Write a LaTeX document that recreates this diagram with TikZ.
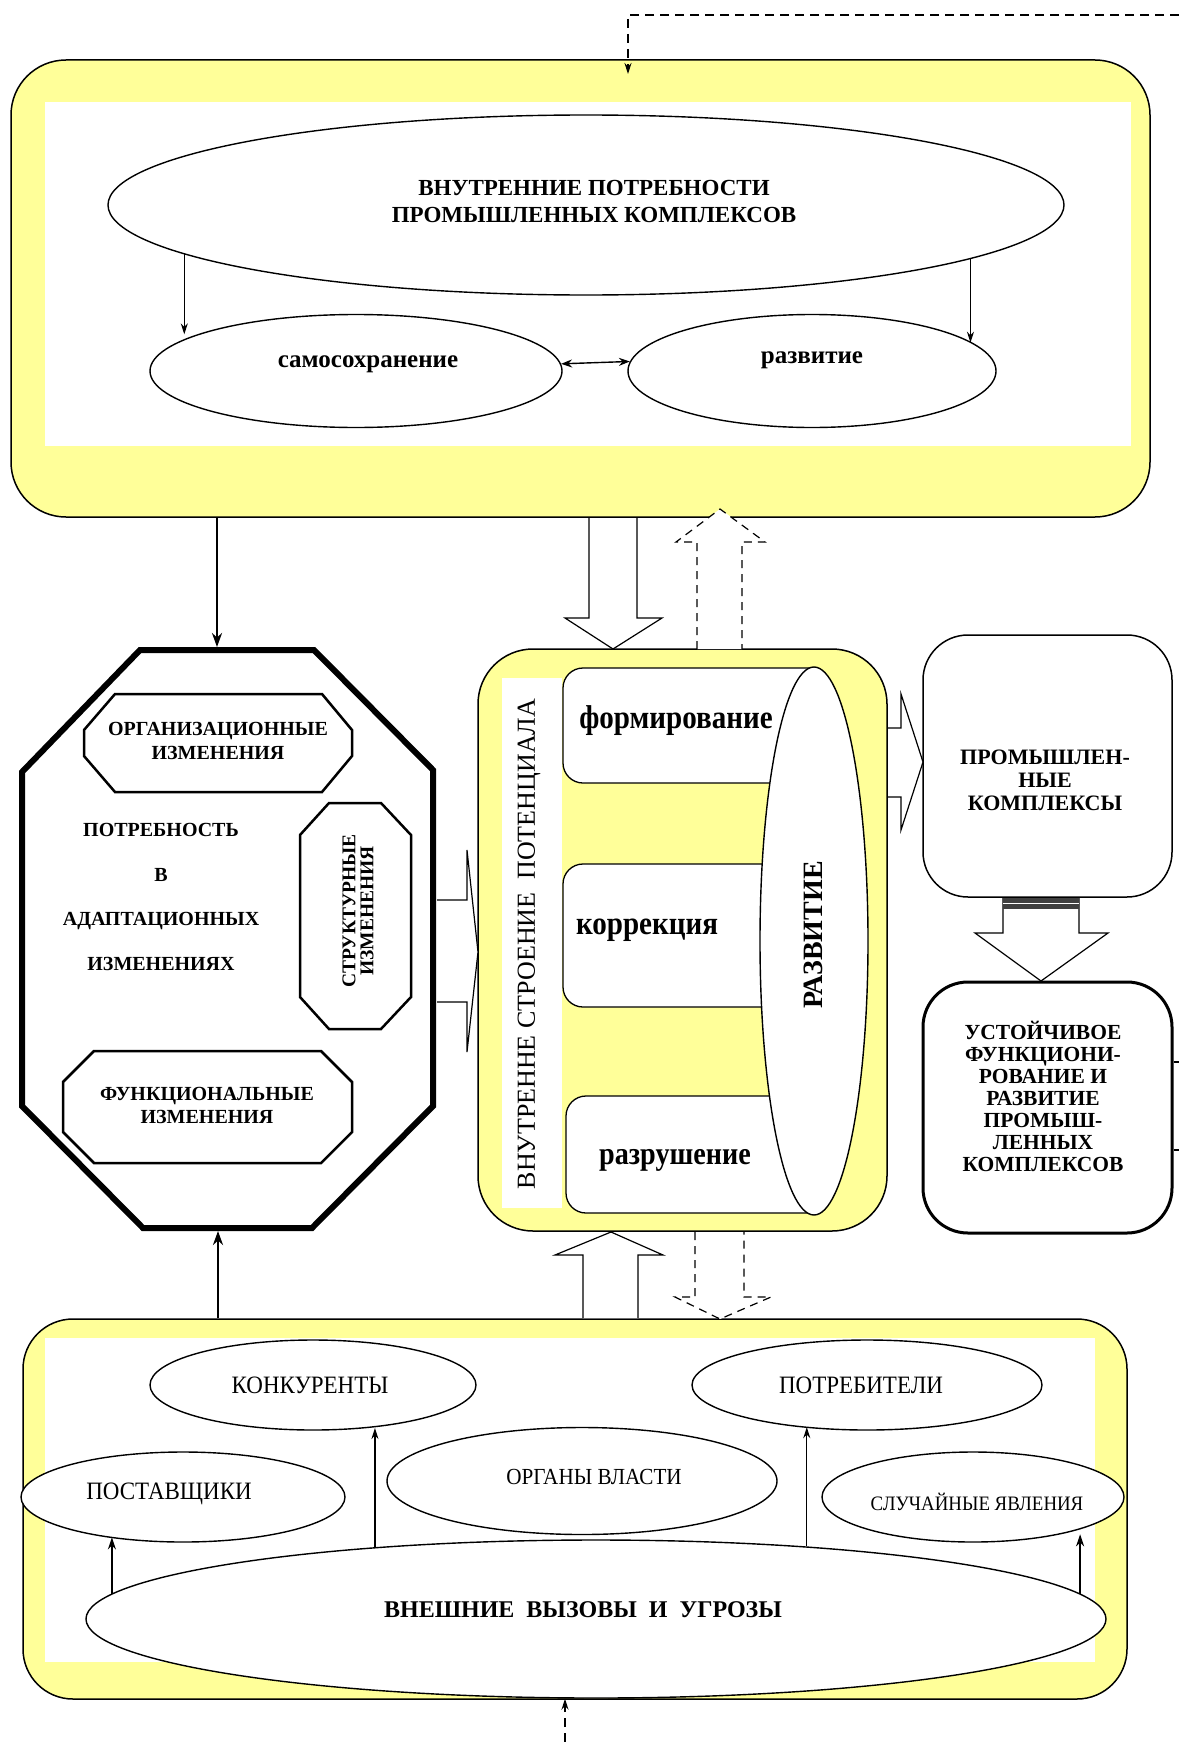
\documentclass[tikz,border=0pt]{standalone}
\usepackage{fontspec}
\setmainfont{Liberation Serif}
\newfontfamily\serifN[FakeStretch=0.88]{Liberation Serif}
\newfontfamily\serifC[FakeStretch=0.92]{Liberation Serif}
\usetikzlibrary{shapes.geometric, arrows.meta, calc}
\definecolor{yel}{RGB}{255,255,153}
\tikzset{
  ybox/.style={draw, line width=1.5pt, fill=yel, rounded corners=#1, inner sep=0pt},
  wbox/.style={fill=white, inner sep=0pt},
  ell/.style={draw, ellipse, line width=1.4pt, fill=white, inner sep=0pt},
  arr/.style={-{Stealth[length=11pt,width=7pt]}, line width=1.2pt},
  marr/.style={-{Stealth[length=12pt,width=8pt]}, line width=2pt},
  tarr/.style={-{Stealth[length=14pt,width=10pt]}, line width=2.5pt},
  darr/.style={arr, dash pattern=on 9pt off 6pt},
  blk/.style={draw, fill=white, line width=1.2pt, line join=miter},
  dblk/.style={blk, dash pattern=on 8pt off 6pt},
  chb/.style={draw, fill=white, line width=2.5pt, line join=miter},
  lbl/.style={align=center, inner sep=0pt},
}
\begin{document}
\begin{tikzpicture}[x=1pt,y=-1pt]
\useasboundingbox (0,0) rectangle (1179,1742);

% ---------- top block ----------
\node[ybox=55pt, minimum width=1139pt, minimum height=457pt] (topbox) at (580.5,288.5) {};
\node[wbox, minimum width=1086pt, minimum height=344pt] (topin) at (588,274) {};
\node[ell, minimum width=956pt, minimum height=180pt] (needs) at (586,205) {};
\node[lbl, font=\bfseries\fontsize{23}{27}\selectfont] (needst) at (594,201) {ВНУТРЕННИЕ ПОТРЕБНОСТИ\\ПРОМЫШЛЕННЫХ КОМПЛЕКСОВ};
\node[ell, minimum width=412pt, minimum height=113pt] (selfp) at (356,371) {};
\node[lbl, font=\bfseries\fontsize{25}{28}\selectfont] (selfpt) at (368,364) {самосохранение};
\node[ell, minimum width=368pt, minimum height=113pt] (devel) at (812,371) {};
\node[lbl, font=\bfseries\fontsize{25}{28}\selectfont] (develt) at (812,360) {развитие};

\draw[arr] (needs.187.55) -- (needs.187.55 |- selfp.167.77);
\draw[arr] (needs.352.05) -- (needs.352.05 |- devel.10.3);
\draw[{Stealth[length=11pt,width=8pt]}-{Stealth[length=11pt,width=8pt]}, line width=1.4pt] (selfp.2.53) -- (devel.177.2);

\coordinate (topright) at (1179,15);
\coordinate (topinarrow) at (628,74);
\draw[darr] (topright) -| (topinarrow);

% ---------- octagon ----------
\node[inner sep=0pt, minimum width=411pt, minimum height=578pt] (oct) at (227.5,939) {};
\draw[line width=6pt, line join=miter, fill=white] (140,650) -- (314,650) -- (433,770) -- (433,1106) -- (312,1228) -- (143,1228) -- (22,1106) -- (22,772) -- cycle;
\coordinate (octtop) at (217,647);
\coordinate (octbot) at (218,1231);

\draw[chb] (115,694) -- (322,694) -- (352,730) -- (352,756) -- (322,792) -- (115,792) -- (84,756) -- (84,730) -- cycle;
\node[lbl, font=\bfseries\fontsize{20}{24}\selectfont] (orgt) at (218,741) {ОРГАНИЗАЦИОННЫЕ\\ИЗМЕНЕНИЯ};

\draw[chb] (329,803) -- (381,803) -- (411,835) -- (411,997) -- (381,1029) -- (329,1029) -- (300,997) -- (300,835) -- cycle;
\node[lbl, rotate=90, font=\bfseries\fontsize{19.5}{18}\selectfont] (strt) at (358,911) {СТРУКТУРНЫЕ\\ИЗМЕНЕНИЯ};

\draw[chb] (94,1051) -- (321,1051) -- (352,1082) -- (352,1132) -- (321,1163) -- (94,1163) -- (63,1132) -- (63,1082) -- cycle;
\node[lbl, font=\bfseries\fontsize{20}{23}\selectfont] (funt) at (207,1105) {ФУНКЦИОНАЛЬНЫЕ\\ИЗМЕНЕНИЯ};

\node[lbl, font=\bfseries\fontsize{20}{44.7}\selectfont] (needad) at (161,897) {ПОТРЕБНОСТЬ\\В\\АДАПТАЦИОННЫХ\\ИЗМЕНЕНИЯХ};

% ---------- central block ----------
\node[ybox=55pt, minimum width=409pt, minimum height=582pt] (cbox) at (682.5,940) {};
\node[wbox, minimum width=60pt, minimum height=530pt] (cstrip) at (532,943) {};
\node[lbl, rotate=90, font=\fontsize{26}{26}\selectfont] (cstript) at (529,944) {ВНУТРЕННЕ СТРОЕНИЕ\ \ ПОТЕНЦИАЛА};

\filldraw[fill=white, line width=1.3pt, rounded corners=20pt] (814,668) -- (563,668) -- (563,783) -- (814,783);
\filldraw[fill=white, line width=1.3pt, rounded corners=20pt] (814,864) -- (563,864) -- (563,1007) -- (814,1007);
\filldraw[fill=white, line width=1.3pt, rounded corners=20pt] (814,1096) -- (566,1096) -- (566,1213) -- (814,1213);
\node[ell, minimum width=108pt, minimum height=548pt] (razv) at (814,941) {};
\node[lbl, rotate=90, font=\bfseries\fontsize{28}{28}\selectfont] (razvt) at (813,935) {РАЗВИТИЕ};

\node[lbl, anchor=base, font=\serifN\bfseries\fontsize{33}{33}\selectfont] (formt) at (676,728) {формирование};
\node[lbl, anchor=base, font=\serifN\bfseries\fontsize{33}{33}\selectfont] (korrt) at (647,934) {коррекция};
\node[lbl, anchor=base, font=\serifN\bfseries\fontsize{32}{32}\selectfont] (razrt) at (675,1164) {разрушение};

% ---------- right column ----------
\node[draw, line width=1.5pt, rounded corners=45pt, minimum width=249pt, minimum height=262pt, inner sep=0pt] (pk) at (1047.5,766) {};
\node[lbl, font=\bfseries\fontsize{22}{23}\selectfont] (pkt) at (1045,780) {ПРОМЫШЛЕН-\\НЫЕ\\КОМПЛЕКСЫ};
\node[draw, line width=3pt, rounded corners=45pt, minimum width=249pt, minimum height=251pt, inner sep=0pt] (uf) at (1047.5,1107.5) {};
\node[lbl, font=\bfseries\fontsize{21.5}{22}\selectfont] (uft) at (1043,1096) {УСТОЙЧИВОЕ\\ФУНКЦИОНИ-\\РОВАНИЕ И\\РАЗВИТИЕ\\ПРОМЫШ-\\ЛЕННЫХ\\КОМПЛЕКСОВ};
\coordinate (edgeA) at (1179,1062);
\coordinate (edgeB) at (1179,1150);
\draw[line width=1.2pt] (uf.east |- edgeA) -- (edgeA);
\draw[line width=1.2pt] (uf.east |- edgeB) -- (edgeB);

% ---------- bottom block ----------
\node[ybox=50pt, minimum width=1104pt, minimum height=380pt] (botbox) at (575,1509) {};
\node[wbox, minimum width=1050pt, minimum height=324pt] (botin) at (570,1500) {};
\node[ell, minimum width=1020pt, minimum height=158pt] (vnesh) at (596,1619) {};
\node[lbl, font=\bfseries\fontsize{24}{26}\selectfont] (vnesht) at (583,1610) {ВНЕШНИЕ\ \ ВЫЗОВЫ\ \ И\ \ УГРОЗЫ};
\node[ell, minimum width=326pt, minimum height=90pt] (kon) at (313,1385) {};
\node[lbl, font=\serifC\fontsize{25}{26}\selectfont] (kont) at (310,1385) {КОНКУРЕНТЫ};
\node[ell, minimum width=350pt, minimum height=90pt] (potr) at (867,1385) {};
\node[lbl, font=\serifC\fontsize{25}{26}\selectfont] (potrt) at (861,1385) {ПОТРЕБИТЕЛИ};
\node[ell, minimum width=324pt, minimum height=90pt] (post) at (183,1497) {};
\node[lbl, font=\serifC\fontsize{25}{26}\selectfont] (postt) at (169,1494) {ПОСТАВЩИКИ};
\node[ell, minimum width=390pt, minimum height=107pt] (vlast) at (582,1481) {};
\node[lbl, font=\serifC\fontsize{23}{26}\selectfont] (vlastt) at (594,1477) {ОРГАНЫ ВЛАСТИ};
\node[ell, minimum width=302pt, minimum height=90pt] (sluch) at (973,1497) {};
\node[lbl, font=\serifC\fontsize{20.5}{22}\selectfont] (slucht) at (977,1502) {СЛУЧАЙНЫЕ ЯВЛЕНИЯ};

\draw[marr] (vnesh.177.24) -- (vnesh.177.24 |- post.208.4);
\draw[arr] (vnesh.162.77) -- (vnesh.162.77 |- kon.322.37);
\draw[arr] (vnesh.19.34) -- (vnesh.19.34 |- potr.212.74);
\draw[marr] (vnesh.3.94) -- (vnesh.3.94 |- sluch.337.76);
\coordinate (botedge) at (565,1742);
\draw[darr] (botedge) -- (botedge |- vnesh.south);

% ---------- connectors between blocks ----------
\draw[tarr] (topbox.south -| octtop) -- (octtop);
\draw[tarr] (botbox.north -| octbot) -- (octbot);

% block arrows
\draw[blk] (589,518) -- (589,618) -- (565,618) -- (613,649) -- (662,618) -- (637,618) -- (637,518);
\draw[dblk] (697,649) -- (697,542) -- (676,542) -- (720,509) -- (765,542) -- (742,542) -- (742,649);
\draw[blk] (583,1318) -- (583,1255) -- (555,1255) -- (611,1232) -- (663,1255) -- (638,1255) -- (638,1318);
\draw[dblk] (695,1232) -- (695,1297) -- (675,1297) -- (720,1319) -- (771,1297) -- (744,1297) -- (744,1232);
\draw[blk] (437,900) -- (467,900) -- (467,850) -- (478,952) -- (467,1052) -- (467,1002) -- (437,1002);
\draw[blk] (888,728) -- (901,728) -- (901,694) -- (923,762) -- (901,830) -- (901,797) -- (888,797);
\draw[blk] (1003,898) -- (1003,933) -- (975,933) -- (1041,981) -- (1108,933) -- (1079,933) -- (1079,898);
\fill[black!75] (1003,898) rectangle (1079,909);
\draw[white, line width=1.5pt] (1003,903.5) -- (1079,903.5);
\end{tikzpicture}
\end{document}
